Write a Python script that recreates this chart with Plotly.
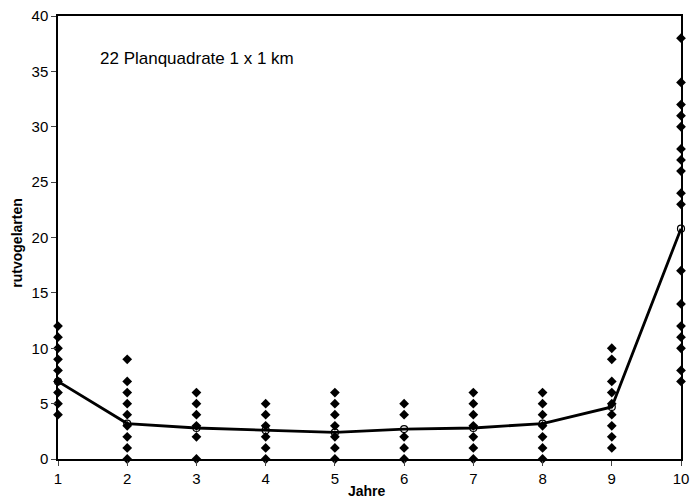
import plotly.graph_objects as go

years = [1, 2, 3, 4, 5, 6, 7, 8, 9, 10]
# observed counts per quadrat (distinct values visible)
counts = {
    1: [4, 5, 6, 7, 8, 9, 10, 11, 12],
    2: [0, 1, 2, 3, 4, 5, 6, 7, 9],
    3: [0, 2, 3, 4, 5, 6],
    4: [0, 1, 2, 3, 4, 5],
    5: [0, 1, 2, 3, 4, 5, 6],
    6: [0, 1, 2, 4, 5],
    7: [0, 1, 2, 3, 4, 5, 6],
    8: [0, 1, 2, 3, 4, 5, 6],
    9: [1, 2, 3, 4, 5, 6, 7, 9, 10],
    10: [7, 8, 10, 11, 12, 14, 17, 23, 24, 26, 27, 28, 30, 31, 32, 34, 38],
}
means = [7.0, 3.2, 2.8, 2.6, 2.4, 2.7, 2.8, 3.2, 4.7, 20.8]
y_ticks = [0, 5, 10, 15, 20, 25, 30, 35, 40]

xs, ys = [], []
for yr in years:
    for v in counts[yr]:
        xs.append(yr)
        ys.append(v)

FONT = "Liberation Sans, Arial"

fig = go.Figure()
fig.add_trace(go.Scatter(
    x=years, y=means, mode="lines+markers",
    line=dict(color="black", width=2.8),
    marker=dict(symbol="circle-open", size=7, color="black", line=dict(width=1.2)),
    cliponaxis=False, showlegend=False,
))
fig.add_trace(go.Scatter(
    x=xs, y=ys, mode="markers",
    marker=dict(symbol="diamond", size=7.5, color="black"),
    cliponaxis=False, showlegend=False,
))

fig.add_annotation(
    x=0.0642, y=0.905, xref="paper", yref="paper", xanchor="left", yanchor="middle",
    text="22 Planquadrate 1 x 1 km", showarrow=False,
    font=dict(family=FONT, size=17, color="black"),
)
fig.add_annotation(
    x=0.496, y=-0.0715, xref="paper", yref="paper", xanchor="center", yanchor="middle",
    text="<b>Jahre</b>", showarrow=False,
    font=dict(family=FONT, size=14, color="black"),
)
fig.add_annotation(
    x=-0.066, y=0.488, xref="paper", yref="paper", xanchor="center", yanchor="middle",
    text="<b>rutvogelarten</b>", showarrow=False, textangle=-90,
    font=dict(family=FONT, size=14, color="black"),
)

fig.update_layout(
    width=694, height=500,
    margin=dict(l=58, r=13, t=16, b=41, autoexpand=False),
    paper_bgcolor="white", plot_bgcolor="white",
    font=dict(family=FONT, size=15, color="black"),
    xaxis=dict(
        range=[1, 10], tickvals=years, ticks="outside", ticklen=5, tickwidth=1,
        showline=True, linecolor="black", linewidth=1.5, mirror=True,
        showgrid=False, zeroline=False, automargin=False,
    ),
    yaxis=dict(
        range=[0, 40], tickvals=y_ticks, ticks="outside", ticklen=5, tickwidth=1,
        showline=True, linecolor="black", linewidth=1.5, mirror=True,
        showgrid=False, zeroline=False, automargin=False,
    ),
)

fig.write_html("out.html")
